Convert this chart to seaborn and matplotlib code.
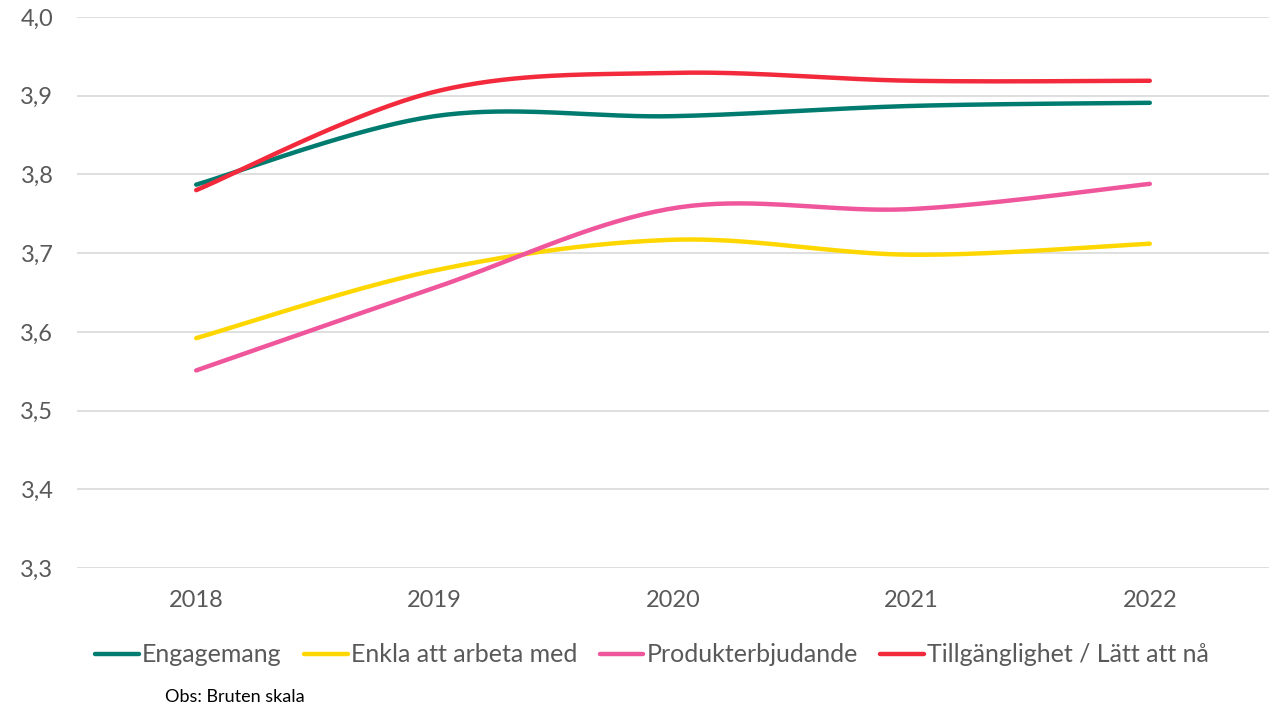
import numpy as np
import pandas as pd
import matplotlib
matplotlib.use('Agg')
import matplotlib.pyplot as plt
import seaborn as sns

# Chart data
years = ['2018', '2019', '2020', '2021', '2022']
engagemang = [3.787, 3.874, 3.874, 3.887, 3.891]
enkla = [3.592, 3.678, 3.717, 3.698, 3.712]
produkter = [3.551, 3.656, 3.757, 3.756, 3.788]
tillganglighet = [3.780, 3.905, 3.929, 3.919, 3.919]

series_names = ['Engagemang', 'Enkla att arbeta med', 'Produkterbjudande',
                'Tillgänglighet / Lätt att nå']
series_values = [engagemang, enkla, produkter, tillganglighet]
colors = ['#007B6F', '#FFD700', '#F0569C', '#F22A3C']

y_ticks = [3.3, 3.4, 3.5, 3.6, 3.7, 3.8, 3.9, 4.0]


def smooth_line(xs, ys, steps=40):
    # Excel-style smoothed line: cubic Bezier through each point
    xs = np.asarray(xs, float)
    ys = np.asarray(ys, float)
    px = np.concatenate([[xs[0]], xs, [xs[-1]]])
    py = np.concatenate([[ys[0]], ys, [ys[-1]]])
    out_x, out_y = [], []
    t = np.linspace(0, 1, steps)
    for i in range(len(xs) - 1):
        p0 = np.array([px[i + 1], py[i + 1]])
        p3 = np.array([px[i + 2], py[i + 2]])
        c1 = p0 + (np.array([px[i + 2], py[i + 2]]) - np.array([px[i], py[i]])) / 6
        c2 = p3 - (np.array([px[i + 3], py[i + 3]]) - np.array([px[i + 1], py[i + 1]])) / 6
        b = ((1 - t) ** 3)[:, None] * p0 + (3 * (1 - t) ** 2 * t)[:, None] * c1 \
            + (3 * (1 - t) * t ** 2)[:, None] * c2 + (t ** 3)[:, None] * p3
        if i > 0:
            b = b[1:]
        out_x.extend(b[:, 0])
        out_y.extend(b[:, 1])
    return out_x, out_y


rows = []
for name, vals in zip(series_names, series_values):
    sx, sy = smooth_line(range(len(years)), vals)
    for i, (a, b) in enumerate(zip(sx, sy)):
        rows.append({'serie': name, 'x': a, 'y': b, 'order': i})
df = pd.DataFrame(rows)

sns.set_theme(style='white')
plt.rcParams['font.family'] = ['Lato', 'DejaVu Sans']

fig = plt.figure(figsize=(12.71, 7.06), dpi=100)
ax = fig.add_axes([77 / 1271, 1 - 568 / 706, (1269 - 77) / 1271, (568 - 17) / 706])

sns.lineplot(data=df, x='x', y='y', hue='serie', palette=colors, sort=False,
             estimator=None, linewidth=3.2, ax=ax, legend=True)

ax.set_xlim(-0.5, len(years) - 0.5)
ax.set_ylim(3.3, 4.0)
ax.set_yticks(y_ticks)
ax.set_yticklabels([f'{v:.1f}'.replace('.', ',') for v in y_ticks])
ax.set_xticks(range(len(years)))
ax.set_xticklabels(years)
ax.yaxis.grid(True, color='#D9D9D9', linewidth=1.2)
ax.xaxis.grid(False)
for s in ax.spines.values():
    s.set_visible(False)
ax.tick_params(axis='y', labelsize=17, labelcolor='#595959', pad=17, length=0)
ax.tick_params(axis='x', labelsize=17, labelcolor='#595959', pad=16, length=0)
ax.set_xlabel('')
ax.set_ylabel('')

handles, labels = ax.get_legend_handles_labels()
ax.legend_.remove()
fig.legend(handles, labels, loc='center', bbox_to_anchor=(0.513, 1 - 655 / 706),
           ncol=4, frameon=False, fontsize=18, handlelength=1.75,
           handletextpad=0.12, columnspacing=0.9, labelcolor='#595959')

fig.text(165 / 1271, 1 - 697 / 706, 'Obs: Bruten skala', fontsize=13,
         color='#000000', va='center', ha='left')

fig.savefig('out.png', dpi=100)
